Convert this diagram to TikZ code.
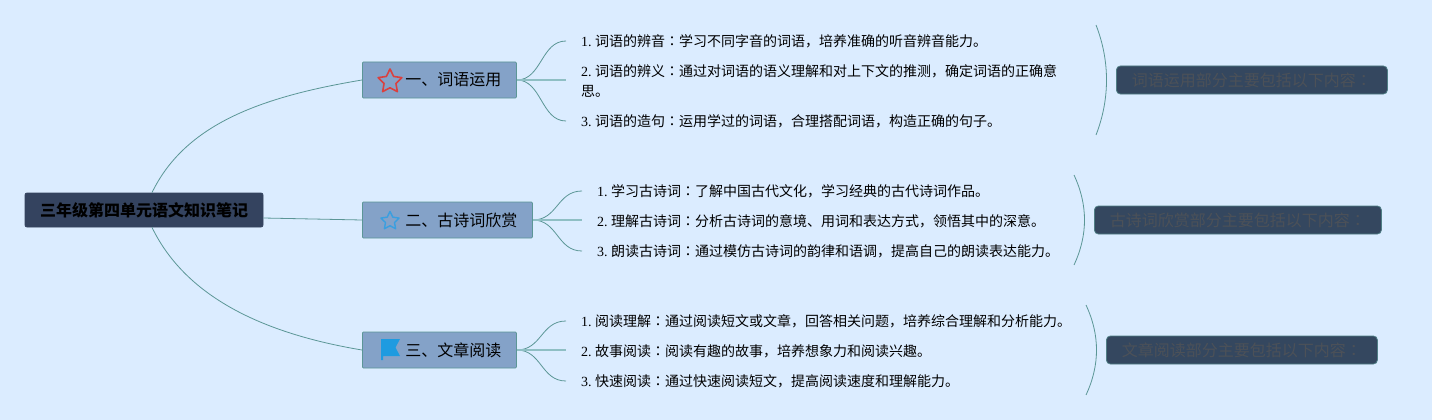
\documentclass[tikz,border=0pt]{standalone}
\usepackage{fontspec}
\usetikzlibrary{shapes.geometric}
\setmainfont{Noto Sans CJK SC}
\newfontfamily\latf{Liberation Serif}
\newfontfamily\tcf{Noto Sans CJK TC}
\newcommand{\numb}[1]{{\latf #1.\ }}
\newcommand{\ccolon}{{\tcf ：}}
\definecolor{bgc}{HTML}{DBECFF}
\definecolor{rootc}{HTML}{34435F}
\definecolor{topicc}{HTML}{84A2C8}
\definecolor{edgec}{HTML}{5B9696}
\definecolor{palec}{HTML}{8FBFC4}
\definecolor{sumc}{HTML}{34475F}
\definecolor{sumt}{HTML}{4C5158}
\definecolor{redst}{HTML}{D9413F}
\definecolor{bluest}{HTML}{3A9FE0}
\definecolor{flagc}{HTML}{1E9BE0}
\tikzset{
  x=1pt,y=-1pt,
  rootbox/.style={draw=rootc,fill=rootc,rounded corners=2pt,line width=.8pt,minimum height=34pt,minimum width=238pt,inner sep=0pt,font=\fontsize{16}{20}\selectfont\bfseries,text=black},
  topicbox/.style={draw=edgec,fill=topicc,rounded corners=1pt,line width=.8pt,minimum height=36pt,inner ysep=0pt,inner xsep=15pt,align=right,font=\fontsize{16}{20}\selectfont,text=black,anchor=west},
  leaf/.style={anchor=west,inner xsep=15pt,inner ysep=0pt,align=left,font=\fontsize{14}{20}\selectfont,text=black},
  sumbox/.style={draw=edgec!70!sumc,fill=sumc,rounded corners=4pt,line width=.8pt,minimum height=28pt,inner sep=0pt,font=\fontsize{16}{20}\selectfont,text=sumt,anchor=west},
  link/.style={draw=edgec,line width=.8pt},
  mainlink/.style={draw=palec,line width=1.6pt},
  bracket/.style={draw=edgec,line width=.8pt},
  icostar/.style={star,star points=5,star point ratio=2.0,draw=#1,line join=round,inner sep=0pt}
}
\begin{document}
\begin{tikzpicture}
\useasboundingbox[fill=bgc] (0,0) rectangle (1432,420);
% root
\node[rootbox] (root) at (144,210) {三年级第四单元语文知识笔记};
% topics
\node[topicbox,text width=124pt] (t1) at (362,80) {一、词语运用};
\node[topicbox,text width=140pt] (t2) at (362,220) {二、古诗词欣赏};
\node[topicbox,text width=124pt] (t3) at (362,350) {三、文章阅读};
% root links
\draw[link] ([xshift=8pt]root.north) .. controls +(33,-68) and +(-102,17) .. (t1.west);
\draw[link] ([yshift=-8pt]root.east) -- (t2.west);
\draw[link] ([xshift=8pt]root.south) .. controls +(33,68) and +(-102,-17) .. (t3.west);
% leaves
\node[leaf] (a1) at (566,41) {\numb{1}词语的辨音\ccolon 学习不同字音的词语，培养准确的听音辨音能力。};
\node[leaf] (a2) at (566,81) {\numb{2}词语的辨义\ccolon 通过对词语的语义理解和对上下文的推测，确定词语的正确意\\思。};
\node[leaf] (a3) at (566,121) {\numb{3}词语的造句\ccolon 运用学过的词语，合理搭配词语，构造正确的句子。};
\node[leaf] (b1) at (582,191) {\numb{1}学习古诗词\ccolon 了解中国古代文化，学习经典的古代诗词作品。};
\node[leaf] (b2) at (582,221) {\numb{2}理解古诗词\ccolon 分析古诗词的意境、用词和表达方式，领悟其中的深意。};
\node[leaf] (b3) at (582,251) {\numb{3}朗读古诗词\ccolon 通过模仿古诗词的韵律和语调，提高自己的朗读表达能力。};
\node[leaf] (c1) at (566,321) {\numb{1}阅读理解\ccolon 通过阅读短文或文章，回答相关问题，培养综合理解和分析能力。};
\node[leaf] (c2) at (566,351) {\numb{2}故事阅读\ccolon 阅读有趣的故事，培养想象力和阅读兴趣。};
\node[leaf] (c3) at (566,381) {\numb{3}快速阅读\ccolon 通过快速阅读短文，提高阅读速度和理解能力。};
% leaf links
\foreach \t/\l in {t1/a1,t1/a3,t2/b1,t2/b3,t3/c1,t3/c3}{
  \draw[link] (\t.east) .. controls +(25,0) and +(-25,0) .. (\l.west);
}
\draw[mainlink] (t1.east) -- (t1.east -| a2.west);
\draw[mainlink] (t2.east) -- (t2.east -| b2.west);
\draw[mainlink] (t3.east) -- (t3.east -| c2.west);
% summaries
\node[sumbox,minimum width=271pt] (s1) at (1116,80) {词语运用部分主要包括以下内容\ccolon};
\node[sumbox,minimum width=287pt] (s2) at (1094,220) {古诗词欣赏部分主要包括以下内容\ccolon};
\node[sumbox,minimum width=271pt] (s3) at (1106,350) {文章阅读部分主要包括以下内容\ccolon};
% brackets
\coordinate (p1a) at (1096,25); \coordinate (p1b) at (1096,135);
\coordinate (p2a) at (1074,175); \coordinate (p2b) at (1074,265);
\coordinate (p3a) at (1086,305); \coordinate (p3b) at (1086,395);
\draw[bracket] (p1a) .. controls +(14,36) and +(14,-36) .. (p1b);
\draw[bracket] (p2a) .. controls +(14,30) and +(14,-30) .. (p2b);
\draw[bracket] (p3a) .. controls +(14,30) and +(14,-30) .. (p3b);
% icons
\node[icostar=redst,line width=1.6pt,minimum size=25pt] (i1) at (390,81.5) {};
\node[icostar=bluest,line width=1.4pt,minimum size=19pt] (i2) at (390,221) {};
\fill[flagc] (381,339) -- (400,339) -- (395.5,347.5) -- (400,356) -- (383,356) -- (383,360) -- (381,360) -- cycle;
\end{tikzpicture}
\end{document}
